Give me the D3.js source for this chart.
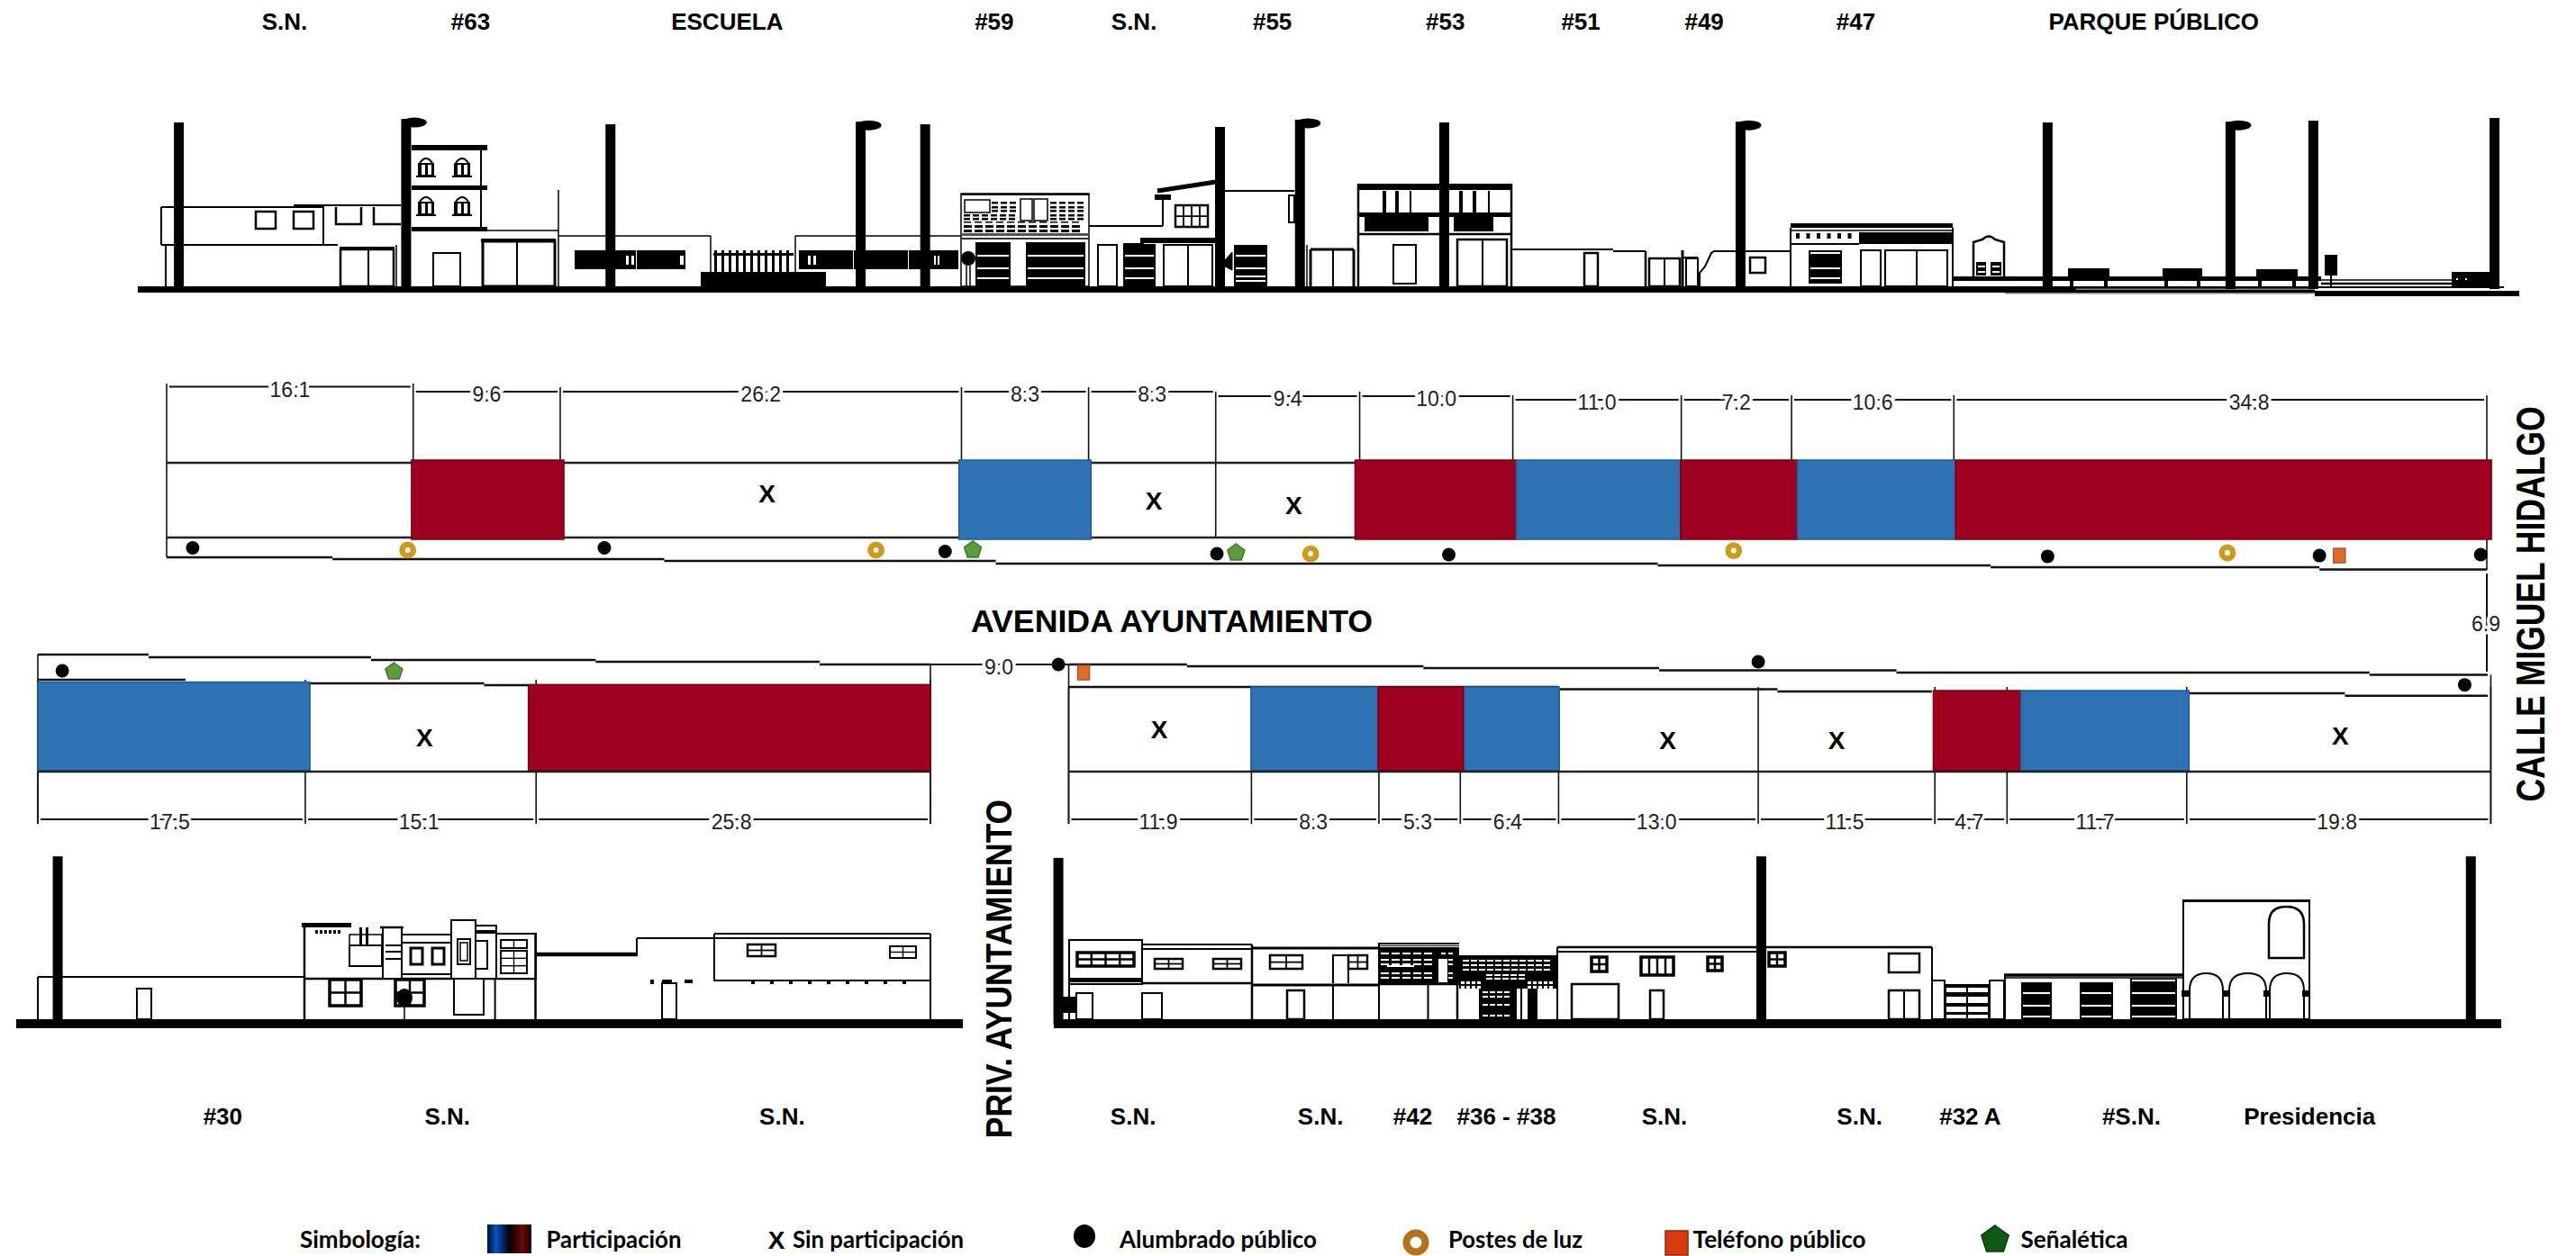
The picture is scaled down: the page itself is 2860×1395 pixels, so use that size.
<!DOCTYPE html>
<meta charset="utf-8">
<script src="https://d3js.org/d3.v7.min.js"></script>
<style>
body{margin:0;background:#fff}
text{font-family:"Liberation Sans",Arial,sans-serif;fill:#000}
</style>
<div id="chart"></div>
<script>

// north side of the avenue
var topLengths = [16.1,9.6,26.2,8.3,8.3,9.4,10.0,11.0,7.2,10.6,34.8]
var topLengthText = ["16.1","9.6","26.2","8.3","8.3","9.4","10.0","11.0","7.2","10.6","34.8"]
var topNames = ["S.N.","#63","ESCUELA","#59","S.N.","#55","#53","#51","#49","#47","PARQUE PÚBLICO"]
var topNamesAt = [7.7,19.85,36.6,54.04,63.17,72.2,83.5,92.34,100.4,110.3,129.75]
var topPaint = [[15.99,25.94,"red"],[51.74,60.36,"blue"],[77.6,88.13,"red"],[88.13,98.86,"blue"],[98.86,106.48,"red"],[106.48,116.81,"blue"],[116.81,151.8,"red"]]
var topNoPart = [[39.2,-3.0],[64.47,-2.5],[73.6,-2.25]]
var topWalkSteps = [[0,10.83,1.17],[10.83,32.49,1.29],[32.49,54.14,1.41],[54.14,97.36,1.58],[97.36,119.1,1.70],[119.1,140.57,1.82],[140.57,151.5,1.97]]
var topLuminaires = [[1.7,.56],[28.58,.56],[50.83,.79],[68.58,.94],[83.72,1.0],[122.82,1.11],[140.57,1.06],[151.1,1.0]]
var topLightPosts = [[15.74,.70],[46.32,.70],[74.7,.94],[102.32,.74],[134.56,.88]]
var topSigns = [[52.64,.70],[69.83,.88]]
var topPhones = [[141.87,1.06]]
var topPoles = [[.8,10.85],[28.98,10.73],[49.53,10.73],[68.78,10.56],[83.42,10.85],[122.82,10.85],[140.17,10.97],[152.0,11.14]]
var topLampPoles = [[15.64,11.08],[45.32,10.9],[74.0,11.03],[102.77,10.9],[134.76,10.9]]

// south side, west of the privada
var leftLengths = [17.5,15.1,25.8]
var leftLengthText = ["17.5","15.1","25.8"]
var leftNames = ["#30","S.N.","S.N."]
var leftNamesAt = [12.1,26.8,48.7]
var leftPaint = [[0,17.8,"blue",1.8],[32.1,58.4,"red",1.98]]
var leftNoPart = [[25.3,5.4]]
var leftWalkSteps = [[0,7.25,0],[7.25,21.8,.18],[21.8,36.5,.35],[36.5,51.15,.47],[51.15,58.4,.65]]
var leftFrontSteps = [[0,9.66,1.65],[9.66,29.2,1.88],[29.2,58.4,2.0]]
var leftLuminaires = [[1.6,1.06]]
var leftSigns = [[23.3,1.12]]
var leftPoles = [[1.3,10.9]]

// south side, east of the privada
var rightLengths = [11.9,8.3,5.3,6.4,13.0,11.5,4.7,11.7,19.8]
var rightLengthText = ["11.9","8.3","5.3","6.4","13.0","11.5","4.7","11.7","19.8"]
var rightNames = ["S.N.","S.N.","#42","#36 - #38","S.N.","S.N.","#32 A","#S.N.","Presidencia"]
var rightNamesAt = [4.2,16.4,22.4,28.5,38.8,51.5,58.7,69.2,80.8]
var rightPaint = [[11.88,20.15,"blue",1.47],[25.7,31.95,"blue",1.47],[20.15,25.7,"red",1.47],[56.3,62.0,"red",1.7],[62.0,72.95,"blue",1.7]]
var rightNoPart = [[5.9,4.22],[39.0,4.93],[50.0,4.93],[82.8,4.63]]
var rightWalkSteps = [[0,7.7,0],[7.7,23.1,.12],[23.1,38.45,.23],[38.45,53.9,.38],[53.9,84.7,.53],[84.7,92.4,.67]]
var rightFrontSteps = [[0,31.9,1.47],[31.9,46.15,1.61],[46.15,56.2,1.76],[72.9,83.1,1.88],[83.1,92.4,2.04]]
var rightLuminaires = [[-.67,0],[44.9,-.18],[90.9,1.33]]
var rightPhones = [[.97,.53]]
var rightPoles = [[-.67,10.8],[45.1,10.9],[91.3,10.9]]

var legendLabels = ["Simbología:","Participación","Sin participación","Alumbrado público","Postes de luz","Teléfono público","Señalética"]
var colors = {red:"#a00020",blue:"#2e72b4"}
var edgeColors = {red:"#7d0010",blue:"#1c5c9c"}

// ---- scales

var mPx = 17.05
var xTop = d3.scaleLinear().domain([0,151.5]).range([185,2761])
var xLeft = d3.scaleLinear().domain([0,58.4]).range([42,1033])
var xRight = d3.scaleLinear().domain([0,92.4]).range([1186.5,2762])
var yTop = d3.scaleLinear().domain([0,1]).range([599,599+mPx])
var yLeft = d3.scaleLinear().domain([0,1]).range([727,727+16.97])
var yRight = d3.scaleLinear().domain([0,1]).range([738,738+mPx])
var groundTop = d3.scaleLinear().domain([0,1]).range([321,321-mPx])
var groundLow = d3.scaleLinear().domain([0,1]).range([1137,1137-mPx])

var svg = d3.select("#chart").append("svg").attr("width",2860).attr("height",1395).style("display","block")
var defs = svg.append("defs")
var grad = defs.append("linearGradient").attr("id","partGrad")
;[[0,"#001030"],[.2,"#0a52c8"],[.5,"#050005"],[.8,"#6a0808"],[1,"#1a0000"]].forEach(function(s){
	grad.append("stop").attr("offset",s[0]).attr("stop-color",s[1])
})

// ---- small drawing helpers for the elevations

var art = svg.append("g")
function ln(x1,y1,x2,y2,w){
	art.append("line").attr("x1",x1).attr("y1",y1).attr("x2",x2).attr("y2",y2).attr("stroke","#000").attr("stroke-width",w||2)
}
function bx(x0,y0,x1,y1,w){
	art.append("rect").attr("x",x0).attr("y",y0).attr("width",x1-x0).attr("height",y1-y0).attr("fill","#fff").attr("stroke","#000").attr("stroke-width",w||2)
}
function so(x0,y0,x1,y1,c){
	art.append("rect").attr("x",x0).attr("y",y0).attr("width",x1-x0).attr("height",y1-y0).attr("fill",c||"#000")
}
function wh(x0,y0,x1,y1){ so(x0,y0,x1,y1,"#fff") }
function pth(d,w,fill){
	art.append("path").attr("d",d).attr("fill",fill||"none").attr("stroke","#000").attr("stroke-width",w||2)
}
function grid(x0,y0,x1,y1,cols,rows,w){
	bx(x0,y0,x1,y1,w)
	for(var i=1;i<cols;i++){ var x=x0+(x1-x0)*i/cols; ln(x,y0,x,y1,w*.7) }
	for(var j=1;j<rows;j++){ var y=y0+(y1-y0)*j/rows; ln(x0,y,x1,y,w*.7) }
}
function slatted(x0,y0,x1,y1,slats){
	so(x0,y0,x1,y1)
	slats.forEach(function(y){ wh(x0+2,y-1,x1-2,y+1) })
}
function dashes(x0,x1,y,len,gap,h,c){
	for(var x=x0;x<x1-len;x+=len+gap){ so(x,y,x+len,y+(h||2),c||"#fff") }
}
function archWin(x,y){
	pth("M"+(x-7)+" "+(y+5)+"Q"+x+" "+(y-5)+" "+(x+7)+" "+(y+5),2)
	so(x-9,y+5,x+9,y+19)
	wh(x-5,y+7,x-1,y+18); wh(x+2,y+7,x+6,y+18)
	ln(x-11,y+20,x+11,y+20,2)
}

function drawTopElevation(){
	// S.N.
	ln(179,230,359,230); ln(326,228,445,228); ln(179,230,179,272); ln(179,272,375,272)
	ln(184,272,184,318); ln(359,228,359,272)
	bx(284,235,306,254,2.5); bx(326,235,348,254,2.5)
	pth("M373 230V249H401V230",2.5); pth("M415 230V249H445",2.5)
	bx(378,277,437,318,2.5); so(377,274,438,278); ln(409,276,409,318); ln(440,272,440,318,1.5)
	// #63
	so(457,161,541,167); so(457,206,541,211); so(457,252,541,257)
	ln(534,164,534,254)
	archWin(473,176); archWin(513,176); archWin(473,219); archWin(513,219)
	ln(541,256,620,256,1.5); ln(620,211,620,318,1.5)
	bx(481,281,511,318,2); bx(536,268,616,318,3); so(534,265,617,269); ln(574,268,574,318)
	// escuela
	ln(620,262,789,262,1.5); ln(789,262,789,302,1.5)
	so(638,278,761,299); wh(695,284,698,294); wh(701,284,704,294); wh(706,278,707,299); wh(755,284,759,294)
	so(778,302,917,319)
	for(var x=793;x<880;x+=8){ so(x,278,x+3,302) }
	so(792,281,881,284)
	ln(883,262,1067,262,1.5); ln(883,262,883,302,1.5)
	so(887,278,1064,299); wh(897,284,900,294); wh(903,284,906,294); wh(947,278,948,299); wh(1008,278,1009,299); wh(1037,284,1039,294); wh(1041,284,1043,294)
	// #59
	bx(1067,215,1209,318,1.5); so(1067,215,1209,217)
	bx(1071,222,1099,236,1.5)
	;[224,229,233].forEach(function(y){ dashes(1101,1131,y,7,3,2.5,"#000"); dashes(1166,1206,y,7,3,2.5,"#000") })
	;[238,242].forEach(function(y){ dashes(1070,1131,y,7,3,2.5,"#000"); dashes(1166,1206,y,7,3,2.5,"#000") })
	dashes(1070,1207,246,8,4,1.5,"#000")
	;[250,255].forEach(function(y){ dashes(1070,1207,y,9,3,3,"#000") })
	bx(1133,221,1146,245,1.5); bx(1148,221,1163,245,1.5)
	so(1067,259,1209,262,"#555"); so(1067,264,1209,266,"#333")
	slatted(1083,269,1122,318,[284,298,309]); slatted(1139,269,1205,318,[284,298,309])
	art.append("circle").attr("cx",1075).attr("cy",287).attr("r",8).attr("fill","#000")
	ln(1073,295,1073,318,1.5); ln(1077,295,1077,318,1.5)
	// S.N.
	ln(1209,251,1291,251); ln(1291,220,1291,251)
	pth("M1285 212L1350 202",5); so(1282,216,1300,222)
	grid(1305,228,1341,252,4,2,2.5)
	so(1266,264,1350,270); so(1247,271,1283,318); wh(1249,283,1281,285); wh(1249,297,1281,299); wh(1249,308,1281,310); so(1247,270,1270,274)
	bx(1219,272,1240,318,2)
	bx(1292,272,1346,318,2); ln(1319,272,1319,318)
	// #55
	ln(1360,212,1437,212); bx(1431,217,1437,247,2)
	slatted(1370,272,1407,318,[284,298,307,312])
	pth("M1368 280L1360 289V296L1368 300Z",1,"#000")
	ln(1455,277,1503,277,3); ln(1455,277,1455,318,3); ln(1503,277,1503,318,3); ln(1480,277,1480,318,2); ln(1451,272,1451,318,1.5)
	// #53
	so(1507,204,1679,211); ln(1508,204,1508,318,2.5); ln(1678,204,1678,318,2.5)
	so(1507,236,1679,241)
	;[1537,1551,1566,1622,1637,1653].forEach(function(x){ ln(x,212,x,237,x==1566||x==1653?2:4) })
	so(1515,241,1586,257); so(1614,241,1658,257)
	ln(1507,260,1679,260,2.5)
	bx(1547,272,1572,315,2); bx(1618,266,1673,318,2.5); ln(1646,266,1646,318)
	// #51
	ln(1679,277,1791,277); ln(1791,279,1827,279); bx(1759,281,1774,318,2.5)
	ln(1827,279,1827,318,2.5)
	bx(1831,287,1865,318,2.5); ln(1848,287,1848,318); ln(1868,278,1868,318,3)
	// #49
	ln(1868,286,1885,286); ln(1885,286,1885,300); bx(1872,287,1885,318,2)
	pth("M1887 318V303L1893 296L1900 281L1903 279H1988",2)
	bx(1943,286,1960,303,2.5)
	// #47
	so(1988,248,2168,253); ln(1988,256,2168,256,1.5); ln(1988,253,1988,318,2); ln(2168,253,2168,318,2)
	so(2064,258,2168,271); ln(1988,271,2064,271)
	for(var i=0;i<6;i++){ so(1994+i*11.5,259,1998+i*11.5,265) }
	slatted(2008,278,2045,315,[281,298,309])
	bx(2066,278,2088,318,2); bx(2093,278,2128,318,2); bx(2128,278,2162,318,2)
	// parque
	pth("M2191 307V269L2201 266Q2208 259 2215 266L2225 269V307",2.5)
	so(2194,291,2205,306); so(2210,291,2222,306); wh(2196,295,2204,297); wh(2196,301,2204,303); wh(2212,295,2220,297); wh(2212,301,2220,303)
	so(2168,307,2577,312)
	so(2296,298,2342,308); so(2401,298,2445,308); so(2505,299,2551,310)
	;[2300,2338,2405,2441,2509,2547].forEach(function(x){ so(x-2,308,x+2,318) })
	so(2581,283,2595,306); ln(2588,306,2588,320,2)
	ln(2577,311,2722,311,1.5); ln(2577,315,2722,315,2.5)
	so(2722,302,2766,318)
	wh(2727,309,2729,311); wh(2737,309,2739,311)
	// ground
	so(153,318,2570,325)
	so(2570,318,2780,320); so(2570,323,2797,329)
	so(2305,320.5,2570,322,"#888"); so(2226,325,2570,326.5,"#888")
}

function drawBottomElevation(){
	// left block
	ln(42,1085,338,1085); ln(42,1085,42,1132); bx(152,1098,168,1132,2)
	ln(338,1027,338,1132,2.5); so(335,1025,390,1030); dashes(350,381,1033,3,2,4,"#000")
	ln(338,1087,595,1087,2.5)
	bx(388,1038,424,1050,1.5); so(387,1049,424,1052); bx(388,1050,424,1073,2); so(399,1030,402,1050); so(406,1030,409,1050)
	bx(425,1030,446,1087,2); ln(422,1030,448,1030,2.5); ln(428,1050,445,1050); ln(428,1057,445,1057); ln(428,1065,445,1065)
	ln(446,1038,503,1038); ln(446,1047,503,1047); ln(446,1082,503,1082)
	bx(456,1053,469,1071,3); bx(480,1053,493,1071,3)
	bx(528,1028,551,1087,2); so(529,1033,550,1037); bx(527,1045,541,1076,2)
	bx(501,1022,528,1087,2); bx(508,1043,522,1071,2); bx(511,1047,519,1067,1.5)
	bx(551,1037,595,1087,2); 
	grid(556,1044,585,1053,2,1,2); grid(556,1056,585,1081,2,3,2)
	ln(549.6,1087,549.6,1132); ln(594.5,1037,594.5,1132,2.5)
	grid(366,1088,401,1117,2,2,3.5); grid(439,1088,471,1117,2,2,3.5)
	art.append("ellipse").attr("cx",449).attr("cy",1108).attr("rx",9).attr("ry",10).attr("fill","#000")
	ln(449,1117,449,1132,1.5)
	bx(504,1087,537,1127,2)
	ln(595,1060,707,1060,4.5); ln(707,1042,707,1062,2); ln(707,1042,793,1042,2)
	bx(793,1042,1033,1089,2); ln(793,1037,1033,1037,2); ln(793,1037,793,1042); ln(1033,1037,1033,1132,2)
	grid(830,1049,861,1062,2,2,2.5); grid(988,1051,1017,1064,2,2,2)
	for(var t=834;t<1005;t+=21){ so(t,1090,t+4,1093) }
	bx(735,1092,751,1132,2); so(722,1088,726,1093); so(735,1088,746,1091); so(760,1088,769,1092)
	// right block
	bx(1187,1049,1268,1093,2); bx(1187,1044,1268,1088,2); so(1187,1086,1268,1091)
	grid(1196,1058,1259,1073,4,2,3.5)
	ln(1268,1049,1390,1049,2); ln(1268,1054,1390,1054,2); ln(1268,1092,1390,1092,2.5)
	grid(1282,1065,1313,1076,2,2,2.5); grid(1347,1065,1378,1076,2,2,2.5)
	ln(1187,1093,1187,1132); ln(1390,1049,1390,1132,2.5)
	bx(1195,1103,1213,1132,2); bx(1268,1103,1290,1132,2); so(1180,1107,1195,1125)
	ln(1390,1053,1531,1053,3); ln(1390,1094,1531,1094,3)
	grid(1410,1061,1446,1076,2,2,2.5); pth("M1480 1092V1061H1497",2); grid(1497,1061,1518,1076,2,2,2.5); ln(1497,1076,1497,1092,2)
	bx(1429,1100,1448,1132,2.5); ln(1480,1094,1480,1132,2)
	// #42
	so(1531,1047,1620,1092); wh(1531,1049,1620,1050); wh(1531,1051,1620,1052)
	;[1058,1065,1070,1080,1085].forEach(function(y){ dashes(1533,1595,y,9,3,2); dashes(1600,1618,y,5,3,2) })
	wh(1540,1072,1570,1074); wh(1597,1065,1607,1091)
	ln(1531,1093,1620,1093,2.5); ln(1531,1047,1531,1132,2); ln(1585.5,1093,1585.5,1132,2); ln(1618,1093,1618,1132,2.5)
	// #36 - #38
	so(1620,1061,1729,1098)
	;[1066,1071,1076].forEach(function(y){ dashes(1624,1727,y,7,2,2) })
	;[1082,1086].forEach(function(y){ dashes(1650,1695,y,7,2,2) })
	;[1090,1095].forEach(function(y){ dashes(1622,1648,y,4,2,3); dashes(1696,1727,y,4,2,3) })
	so(1642,1098,1684,1132); so(1696,1098,1707,1132); ln(1689,1098,1689,1132,2)
	;[1101,1106,1115,1127].forEach(function(y){ dashes(1646,1682,y,6,2,2) })
	// S.N.
	ln(1729,1052,2145,1052,2.5); ln(1729,1057,1950,1057,2); ln(1729,1052,1729,1132,2)
	grid(1767,1063,1784,1079,2,2,3.5); grid(1822,1063,1858,1083,4,1,3.5); grid(1896,1063,1912,1078,2,2,3.5)
	bx(1745,1093,1797,1132,2.5); bx(1832,1100,1847,1132,2.5)
	grid(1964,1058,1982,1073,2,2,3.5); bx(2097,1059,2131,1080,2.5); bx(2097,1100,2131,1132,2.5); ln(2114,1100,2114,1132)
	ln(2145,1052,2145,1132,2)
	// #32 A
	bx(2145,1089,2159,1132,2); bx(2209,1089,2225,1132,2); so(2159,1093,2209,1132)
	;[[1097,1102],[1107,1114],[1118,1124],[1127,1131]].forEach(function(r){ wh(2161,r[0],2183,r[1]); wh(2185,r[0],2207,r[1]) })
	// #S.N.
	ln(2225,1083,2424,1083,3.5); ln(2225,1086,2424,1086,1.5); ln(2226,1083,2226,1132,2)
	slatted(2244,1091,2278,1132,[1103,1117,1129]); slatted(2309,1091,2346,1132,[1103,1117,1129]); slatted(2365,1087,2417,1132,[1089,1103,1117,1129])
	// presidencia
	bx(2424,1000,2564,1132,2); so(2424,999,2564,1002)
	pth("M2519 1064V1026Q2519 1007 2538 1007Q2558 1007 2558 1026V1064Z",2.5)
	;[[2431,2468],[2475,2516],[2520,2558]].forEach(function(a){
		var m=(a[0]+a[1])/2
		pth("M"+a[0]+" 1132V1100Q"+a[0]+" 1081 "+m+" 1081Q"+a[1]+" 1081 "+a[1]+" 1100V1132",2)
	})
	;[2426,2471,2517,2560].forEach(function(x){ so(x-4,1100,x+4,1107) })
	// ground
	so(18,1132,1069,1142); so(1170,1132,2777,1142)
}

function drawPoles(list,xs,ys,lamp){
	var g = svg.append("g")
	g.selectAll("rect").data(list).join("rect")
		.attr("x",function(d){return xs(d[0])-5.5}).attr("y",function(d){return ys(d[1])})
		.attr("width",11).attr("height",function(d){return ys(0)-ys(d[1])}).attr("fill","#000")
	if(lamp){
		g.selectAll("ellipse").data(list).join("ellipse")
			.attr("cx",function(d){return xs(d[0])+9}).attr("cy",function(d){return ys(d[1])+4})
			.attr("rx",14).attr("ry",5.5).attr("fill","#000")
	}
}

// ---- plan pieces

function steps(g,list,xs,ys,w){
	g.selectAll(null).data(list).join("line")
		.attr("x1",function(d){return xs(d[0])}).attr("x2",function(d){return xs(d[1])})
		.attr("y1",function(d){return ys(d[2])}).attr("y2",function(d){return ys(d[2])})
		.attr("stroke","#111").attr("stroke-width",w||2.5)
}
function dimension(g,x0,x1,y,label,shift){
	var pad = 3
	g.append("line").attr("x1",x0+pad).attr("x2",x1-pad).attr("y1",y).attr("y2",y).attr("stroke","#111").attr("stroke-width",2.2)
	g.append("text").attr("x",(x0+x1)/2+shift).attr("y",y+3).attr("dy","0.35em").attr("text-anchor","middle")
		.attr("font-size",23).style("fill","#222").style("paint-order","stroke").attr("stroke","#fff").attr("stroke-width",7).text(label)
}
function edges(list){
	var out=[0],t=0
	list.forEach(function(d){t+=d;out.push(t)})
	return out
}
function paint(g,list,xs,ty,by){
	g.selectAll(null).data(list).join("rect")
		.attr("x",function(d){return xs(d[0])}).attr("width",function(d){return xs(d[1])-xs(d[0])})
		.attr("y",function(d){return ty(d)}).attr("height",function(d){return by-ty(d)})
		.attr("fill",function(d){return colors[d[2]]}).attr("stroke",function(d){return edgeColors[d[2]]}).attr("stroke-width",1.5)
}
function noPart(g,list,xs,ys){
	g.selectAll(null).data(list).join("text")
		.attr("x",function(d){return xs(d[0])}).attr("y",function(d){return ys(d[1])}).attr("dy","0.36em")
		.attr("text-anchor","middle").attr("font-size",28).attr("font-weight","bold").text("X")
}
function names(list,at,xs,y){
	svg.append("g").selectAll("text").data(list).join("text")
		.attr("x",function(d,i){return xs(at[i])}).attr("y",y).attr("dy","0.35em")
		.attr("text-anchor","middle").attr("font-size",26).attr("font-weight","bold").text(function(d){return d})
}
function pentPath(cx,cy,r){
	var a=[]
	for(var i=0;i<5;i++){ var t=-Math.PI/2+i*2*Math.PI/5; a.push([cx+r*Math.cos(t),cy+r*Math.sin(t)]) }
	return d3.line()(a)+"Z"
}
function luminaires(g,list,xs,ys){
	g.selectAll(null).data(list).join("circle")
		.attr("cx",function(d){return xs(d[0])}).attr("cy",function(d){return ys(d[1])}).attr("r",7.5).attr("fill","#000")
}
function lightPosts(g,list,xs,ys){
	g.selectAll(null).data(list).join("circle")
		.attr("cx",function(d){return xs(d[0])}).attr("cy",function(d){return ys(d[1])}).attr("r",6.2)
		.attr("fill","#fff").attr("stroke","#d09a18").attr("stroke-width",6.4)
}
function signs(g,list,xs,ys){
	g.selectAll(null).data(list).join("path")
		.attr("d",function(d){return pentPath(xs(d[0]),ys(d[1]),10)}).attr("fill","#5c9c3c").attr("stroke","#3f7a2a").attr("stroke-width",1.5)
}
function phones(g,list,xs,ys){
	g.selectAll(null).data(list).join("rect")
		.attr("x",function(d){return xs(d[0])-6.5}).attr("y",function(d){return ys(d[1])-8})
		.attr("width",13).attr("height",16).attr("fill","#e26c22").attr("stroke","#a85a2a").attr("stroke-width",1.5)
}

drawTopElevation()
drawBottomElevation()
drawPoles(topPoles,xTop,groundTop)
drawPoles(topLampPoles,xTop,groundTop,true)
drawPoles(leftPoles,xLeft,groundLow)
drawPoles(rightPoles,xRight,groundLow)

names(topNames,topNamesAt,xTop,24)
names(leftNames,leftNamesAt,xLeft,1240)
names(rightNames,rightNamesAt,xRight,1240)

// north row
var topG = svg.append("g")
var topEdges = edges(topLengths)
var topTier = [429.5,435,435,435,435,440,440,444,444,444,444]
topEdges.forEach(function(m,i){
	var t = i==0 ? 426 : topTier[Math.min(i,10)]-5
	if(i==1) t = 426
	topG.append("line").attr("x1",xTop(m)).attr("x2",xTop(m)).attr("y1",t).attr("y2",i==0?619:597).attr("stroke","#111").attr("stroke-width",1.6)
})
topG.append("line").attr("x1",xTop(151.5)).attr("x2",xTop(151.5)).attr("y1",597).attr("y2",633).attr("stroke","#111").attr("stroke-width",1.6)
topG.append("line").attr("x1",xTop(0)).attr("x2",xTop(151.5)).attr("y1",514).attr("y2",514).attr("stroke","#222").attr("stroke-width",2.5)
topG.append("line").attr("x1",xTop(0)).attr("x2",xTop(151.5)).attr("y1",597).attr("y2",597).attr("stroke","#222").attr("stroke-width",2.5)
topLengths.forEach(function(d,i){
	dimension(topG,xTop(topEdges[i]),xTop(topEdges[i+1]),topTier[i],topLengthText[i],i==10?32:0)
})
paint(topG,topPaint,xTop,function(){return 511},599)
noPart(topG,topNoPart,xTop,yTop)
steps(topG,topWalkSteps,xTop,yTop)
luminaires(topG,topLuminaires,xTop,yTop)
lightPosts(topG,topLightPosts,xTop,yTop)
signs(topG,topSigns,xTop,yTop)
phones(topG,topPhones,xTop,yTop)

// south rows
function southRow(lengths,lengthText,paintList,noPartList,walk,front,xs,ys,topY,bandTop){
	var g = svg.append("g")
	var ed = edges(lengths)
	ed.forEach(function(m){
		g.append("line").attr("x1",xs(m)).attr("x2",xs(m)).attr("y1",bandTop).attr("y2",915).attr("stroke","#111").attr("stroke-width",1.6)
	})
	g.append("line").attr("x1",xs(0)).attr("x2",xs(0)).attr("y1",topY).attr("y2",915).attr("stroke","#111").attr("stroke-width",1.6)
	g.append("line").attr("x1",xs(d3.sum(lengths))).attr("x2",xs(d3.sum(lengths))).attr("y1",ys(walk[walk.length-1][2])).attr("y2",915).attr("stroke","#111").attr("stroke-width",1.6)
	steps(g,walk,xs,ys)
	steps(g,front,xs,ys)
	paint(g,paintList,xs,function(d){return ys(d[3])},856)
	g.append("line").attr("x1",xs(0)).attr("x2",xs(d3.sum(lengths))).attr("y1",857).attr("y2",857).attr("stroke","#222").attr("stroke-width",2.5)
	lengths.forEach(function(d,i){
		dimension(g,xs(ed[i]),xs(ed[i+1]),910,lengthText[i],-2)
	})
	noPart(g,noPartList,xs,ys)
	return g
}
var leftG = southRow(leftLengths,leftLengthText,leftPaint,leftNoPart,leftWalkSteps,leftFrontSteps,xLeft,yLeft,727,755)
var rightG = southRow(rightLengths,rightLengthText,rightPaint,rightNoPart,rightWalkSteps,rightFrontSteps,xRight,yRight,738,763)
luminaires(leftG,leftLuminaires,xLeft,yLeft)
signs(leftG,leftSigns,xLeft,yLeft)
luminaires(rightG,rightLuminaires,xRight,yRight)
phones(rightG,rightPhones,xRight,yRight)

// cross streets
var crossG = svg.append("g")
crossG.append("line").attr("x1",1033).attr("x2",1186).attr("y1",738).attr("y2",738).attr("stroke","#111").attr("stroke-width",2)
crossG.append("text").attr("x",1109).attr("y",741).attr("dy","0.35em").attr("text-anchor","middle").attr("font-size",23)
	.style("paint-order","stroke").attr("stroke","#fff").attr("stroke-width",7).style("fill","#222").text("9.0")
crossG.append("line").attr("x1",2761).attr("x2",2761).attr("y1",637).attr("y2",746).attr("stroke","#111").attr("stroke-width",2)
crossG.append("text").attr("x",2760).attr("y",693).attr("dy","0.35em").attr("text-anchor","middle").attr("font-size",23)
	.style("paint-order","stroke").attr("stroke","#fff").attr("stroke-width",7).style("fill","#222").text("6.9")
// rotated names are stretched across in the original
crossG.append("text").attr("x",1301).attr("y",689).attr("dy","0.36em").attr("text-anchor","middle")
	.attr("font-size",35.7).attr("font-weight","bold").text("AVENIDA AYUNTAMIENTO")
crossG.append("text").attr("transform","translate(1123,1076) rotate(-90) scale(1,1.16)").attr("text-anchor","middle")
	.attr("font-size",35.4).attr("font-weight","bold").text("PRIV. AYUNTAMIENTO")
crossG.append("text").attr("transform","translate(2825,671) rotate(-90) scale(1,1.25)").attr("text-anchor","middle")
	.attr("font-size",35.5).attr("font-weight","bold").text("CALLE MIGUEL HIDALGO")

// legend
var leg = svg.append("g")
var legendSpans = [[333,134],[606.5,150],[880,190],[1243,219],[1608,149],[1879.6,192],[2243.5,119]]
leg.selectAll("text").data(legendLabels).join("text")
	.attr("x",function(d,i){return legendSpans[i][0]}).attr("y",1377).attr("dy","0.35em")
	.attr("textLength",function(d,i){return legendSpans[i][1]}).attr("lengthAdjust","spacingAndGlyphs")
	.attr("font-size",26).attr("font-weight","bold").style("font-family","Lato").text(function(d){return d})
leg.append("rect").attr("x",541).attr("y",1360).attr("width",49).attr("height",32).attr("fill","url(#partGrad)")
leg.append("text").attr("x",862).attr("y",1377).attr("dy","0.36em").attr("text-anchor","middle").attr("font-size",28).attr("font-weight","bold").text("X")
leg.append("ellipse").attr("cx",1204).attr("cy",1373).attr("rx",12).attr("ry",13).attr("fill","#000")
leg.append("ellipse").attr("cx",1572).attr("cy",1380).attr("rx",10.5).attr("ry",10.5).attr("fill","#fff").attr("stroke","#b8701a").attr("stroke-width",8)
leg.append("rect").attr("x",1849).attr("y",1367).attr("width",25).attr("height",27).attr("fill","#d83a0c").attr("stroke","#8a2a10").attr("stroke-width",1.5)
leg.append("path").attr("d",pentPath(2215,1377,16)).attr("fill","#0c5a14").attr("stroke","#063a0a").attr("stroke-width",1.5)

</script>
